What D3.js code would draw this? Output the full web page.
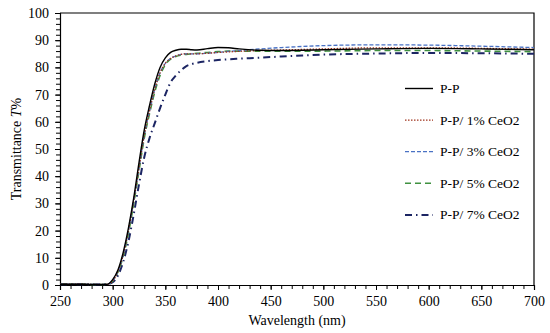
<!DOCTYPE html>
<html>
<head>
<meta charset="utf-8">
<script src="https://cdn.jsdelivr.net/npm/d3@7"></script>
<style>
  body { margin: 0; background: #fff; }
  svg { display: block; font-family: "Liberation Serif", "Times New Roman", serif; }
</style>
</head>
<body>
<svg id="chart"></svg>
<script>
const width = 550;
const height = 333;

// wavelength (nm)
const wavelengths = [250, 260, 270, 280, 290, 295, 300, 305, 310, 315, 320, 325, 330, 335, 340, 345, 350, 355, 360, 365, 370, 375, 380, 390, 400, 410, 420, 440, 460, 480, 500, 550, 600, 650, 700];

// transmittance T% per sample
const pp      = [0.3, 0.3, 0.3, 0.2, 0.2, 0.3, 2, 5.5, 12, 21, 32, 45, 57, 66, 74, 80, 83.5, 85.5, 86.3, 86.7, 86.7, 86.5, 86.4, 86.9, 87.3, 87.2, 86.8, 86.3, 86.2, 86.3, 86.5, 86.8, 87, 86.8, 86.5];
const ceo2_1  = [0.3, 0.3, 0.3, 0.2, 0.2, 0.3, 1.5, 5, 11, 20, 31, 43, 55, 64, 72, 78, 81.5, 83.3, 84.2, 84.8, 85, 85, 85, 85.2, 85.5, 85.7, 85.9, 86.2, 86.4, 86.6, 86.8, 87.2, 87.2, 87, 86.7];
const ceo2_3  = [0.3, 0.3, 0.3, 0.2, 0.2, 0.3, 1.5, 5, 11, 20, 31, 43, 55, 64, 72, 78, 81.5, 83.3, 84.2, 84.8, 85, 85, 85, 85.2, 85.5, 85.9, 86.2, 86.8, 87.3, 87.7, 88, 88.3, 88.2, 87.8, 87.3];
const ceo2_5  = [0.3, 0.3, 0.3, 0.2, 0.2, 0.3, 1.5, 4.8, 10.5, 19, 30, 42, 54, 63, 71, 77, 81, 83, 84, 84.5, 84.8, 85, 85.2, 85.5, 85.8, 86, 86, 86, 86, 86, 86, 86.2, 86.2, 86, 85.8];
const ceo2_7  = [0.3, 0.3, 0.3, 0.2, 0.2, 0.3, 1, 3.5, 8.5, 16, 26, 37, 47, 54, 59.5, 65, 70, 74.5, 77, 79, 80.5, 81.2, 81.7, 82.3, 82.7, 83, 83.2, 83.6, 84, 84.4, 84.7, 85.1, 85.3, 85.2, 85];

const seriesNames = ['P-P', 'P-P/ 1% CeO2', 'P-P/ 3% CeO2', 'P-P/ 5% CeO2', 'P-P/ 7% CeO2'];
const seriesValues = [pp, ceo2_1, ceo2_3, ceo2_5, ceo2_7];

const xTicks = [250, 300, 350, 400, 450, 500, 550, 600, 650, 700];
const yTicks = [0, 10, 20, 30, 40, 50, 60, 70, 80, 90, 100];

const styles = [
  { color: '#000000', dash: null, w: 1.4 },
  { color: '#a0341e', dash: '1.5,1.5', w: 1.3 },
  { color: '#4a72c4', dash: '4,2', w: 1.3 },
  { color: '#3f9140', dash: '6,4', w: 1.6 },
  { color: '#1c2563', dash: '7,4,1.5,4', w: 2 }
];

const margin = { left: 60, right: 16, top: 13, bottom: 48 };

const svg = d3.select('#chart').attr('width', width).attr('height', height);

const x = d3.scaleLinear().domain([250, 700]).range([margin.left, width - margin.right]);
const y = d3.scaleLinear().domain([0, 100]).range([height - margin.bottom, margin.top]);

// minor ticks
svg.append('g')
  .attr('transform', `translate(0,${y(0)})`)
  .call(d3.axisBottom(x).tickValues(d3.range(250, 701, 10)).tickSize(4).tickFormat(''))
  .call(g => g.select('.domain').remove());
svg.append('g')
  .attr('transform', `translate(${x(250)},0)`)
  .call(d3.axisLeft(y).tickValues(d3.range(0, 101, 2)).tickSize(4).tickFormat(''))
  .call(g => g.select('.domain').remove());

const xAxis = svg.append('g')
  .attr('transform', `translate(0,${y(0)})`)
  .call(d3.axisBottom(x).tickValues(xTicks).tickSize(5).tickPadding(6));
const yAxis = svg.append('g')
  .attr('transform', `translate(${x(250)},0)`)
  .call(d3.axisLeft(y).tickValues(yTicks).tickSize(5).tickPadding(6));

[xAxis, yAxis].forEach(g => {
  g.selectAll('text').attr('font-size', 14).attr('font-family', '"Liberation Serif", serif').attr('fill', '#000');
  g.selectAll('line').attr('stroke', '#000');
  g.select('.domain').attr('stroke', '#000').attr('stroke-width', 1.2);
});

// frame top and right
svg.append('path')
  .attr('d', `M${x(250)},${y(100)}H${x(700)}V${y(0)}`)
  .attr('fill', 'none').attr('stroke', '#000').attr('stroke-width', 1.2);

const line = d3.line()
  .x((d, i) => x(wavelengths[i]))
  .y(d => y(d))
  .curve(d3.curveMonotoneX);

// draw 7% first so the others sit on top
[4, 3, 2, 1, 0].forEach(k => {
  svg.append('path')
    .datum(seriesValues[k])
    .attr('d', line)
    .attr('fill', 'none')
    .attr('stroke', styles[k].color)
    .attr('stroke-width', styles[k].w)
    .attr('stroke-dasharray', styles[k].dash);
});

// legend
const legend = svg.append('g');
seriesNames.forEach((name, k) => {
  const ly = 88.5 + k * 31.6;
  legend.append('line')
    .attr('x1', 405).attr('x2', 433).attr('y1', ly).attr('y2', ly)
    .attr('stroke', styles[k].color)
    .attr('stroke-width', styles[k].w)
    .attr('stroke-dasharray', styles[k].dash);
  legend.append('text')
    .attr('x', 440).attr('y', ly + 4.5)
    .attr('font-size', 13.5)
    .text(name);
});

svg.append('text')
  .attr('x', (x(250) + x(700)) / 2).attr('y', 325)
  .attr('text-anchor', 'middle').attr('font-size', 14)
  .text('Wavelength (nm)');

const yl = svg.append('text')
  .attr('transform', `translate(21,${(y(0) + y(100)) / 2}) rotate(-90)`)
  .attr('text-anchor', 'middle').attr('font-size', 14);
yl.append('tspan').text('Transmittance ');
yl.append('tspan').attr('font-style', 'italic').text('T');
yl.append('tspan').text('%');
</script>
</body>
</html>
